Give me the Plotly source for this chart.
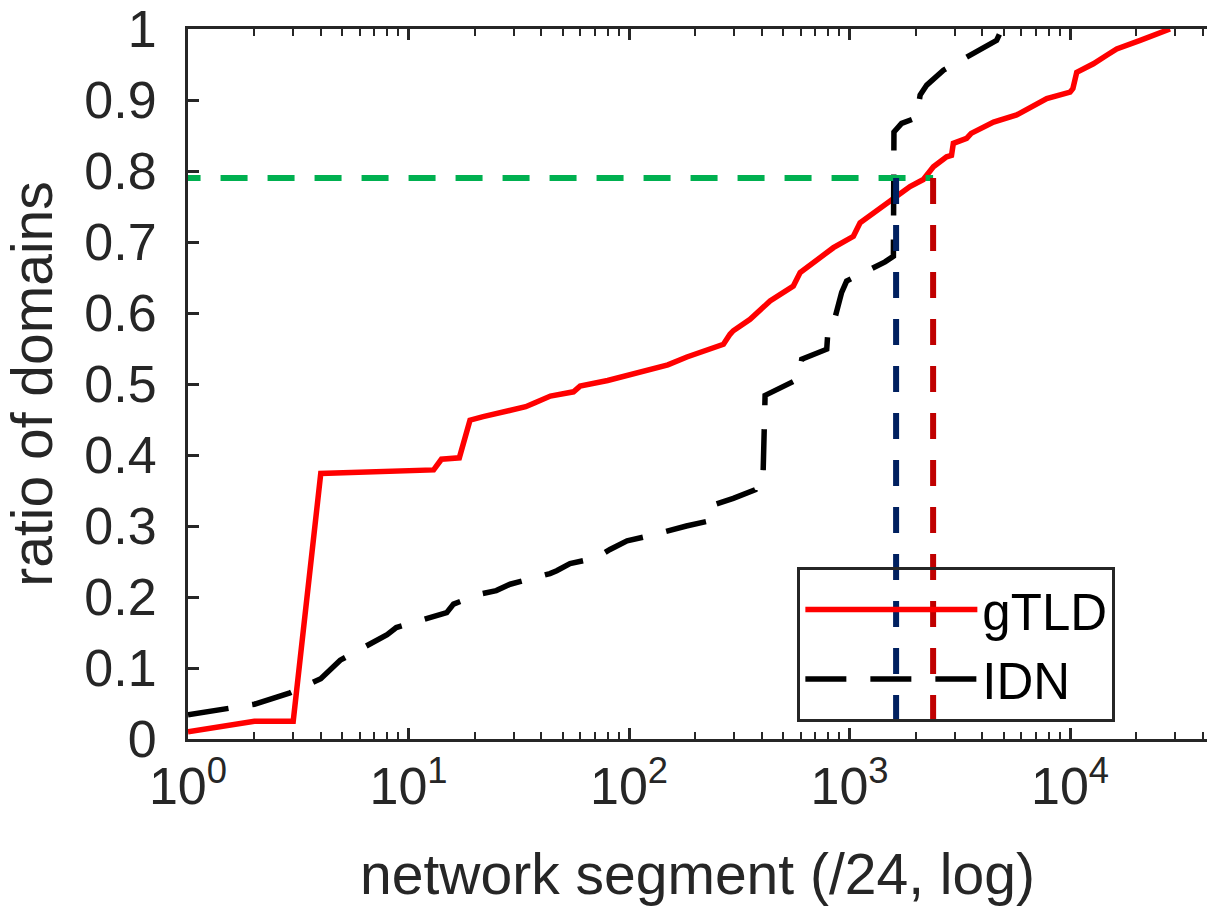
import plotly.graph_objects as go

# ---- data ----
gtld_x = [1, 2, 3, 4, 13, 14.1, 17, 19, 21.8, 26.9, 34, 37, 44, 56, 60, 80, 112, 150, 183, 220,
          259, 268, 287, 297, 354, 436, 556, 597, 845, 1041, 1116, 1475, 1581, 1880, 2161, 2400,
          2755, 2900, 2956, 3396, 3560, 4335, 4500, 5725, 6580, 7840, 10000, 10300, 10720, 12760,
          14660, 16280, 20800, 28400]
gtld_y = [0.010, 0.025, 0.025, 0.374, 0.379, 0.394, 0.396, 0.449, 0.454, 0.461, 0.468, 0.473,
          0.483, 0.489, 0.497, 0.505, 0.516, 0.527, 0.538, 0.546, 0.554, 0.556, 0.570, 0.575,
          0.591, 0.617, 0.638, 0.657, 0.692, 0.708, 0.727, 0.755, 0.762, 0.778, 0.788, 0.806,
          0.820, 0.822, 0.839, 0.846, 0.853, 0.865, 0.869, 0.879, 0.890, 0.902, 0.911, 0.916,
          0.939, 0.951, 0.963, 0.972, 0.984, 1.0]

idn_x = [1, 2, 2.9, 4, 4.9, 8, 8.8, 14.9, 16, 21, 25, 28.9, 43.8, 47, 54, 71, 82, 98, 127,
         159, 182, 230, 237, 297, 373, 378, 405, 414, 518, 586, 607, 788, 800, 860, 921, 970,
         1175, 1449, 1581, 1590, 1722, 2015, 2090, 2239, 2666, 3281, 4645, 4900]
idn_y = [0.034, 0.049, 0.065, 0.085, 0.111, 0.147, 0.157, 0.178, 0.190, 0.204, 0.209, 0.218,
         0.233, 0.237, 0.247, 0.255, 0.267, 0.279, 0.287, 0.296, 0.300, 0.307, 0.329, 0.339,
         0.351, 0.363, 0.367, 0.484, 0.499, 0.507, 0.535, 0.549, 0.580, 0.594, 0.629, 0.645,
         0.658, 0.672, 0.680, 0.855, 0.867, 0.875, 0.907, 0.921, 0.942, 0.958, 0.984, 1.0]

threshold = 0.79
idn_at_threshold = 1626
gtld_at_threshold = 2393
green_start = 0.86

x_tickvals = [1, 10, 100, 1000, 10000]
x_ticktext = ["10<sup>0</sup>", "10<sup>1</sup>", "10<sup>2</sup>", "10<sup>3</sup>", "10<sup>4</sup>"]
y_tickvals = [0, 0.1, 0.2, 0.3, 0.4, 0.5, 0.6, 0.7, 0.8, 0.9, 1.0]
y_ticktext = ["0", "0.1", "0.2", "0.3", "0.4", "0.5", "0.6", "0.7", "0.8", "0.9", "1"]

AX = "#262626"
FONT = "Liberation Sans, Arial, Helvetica, sans-serif"

fig = go.Figure()
fig.add_trace(go.Scatter(x=gtld_x, y=gtld_y, mode="lines", name="gTLD",
                         line=dict(color="#FF0000", width=5.5)))
fig.add_trace(go.Scatter(x=idn_x, y=idn_y, mode="lines", name="IDN",
                         line=dict(color="#000000", width=5.5, dash="41px,24px")))

# reference lines
fig.add_shape(type="line", xref="x", yref="y", x0=green_start, x1=gtld_at_threshold,
              y0=threshold, y1=threshold,
              line=dict(color="#00B050", width=6, dash="27px,20px"))
fig.add_shape(type="line", xref="x", yref="y", x0=idn_at_threshold, x1=idn_at_threshold,
              y0=threshold, y1=0,
              line=dict(color="#002060", width=6, dash="26px,21px"))
fig.add_shape(type="line", xref="x", yref="y", x0=gtld_at_threshold, x1=gtld_at_threshold,
              y0=threshold, y1=0,
              line=dict(color="#C00000", width=6, dash="26px,21px"))

fig.update_layout(
    width=1207, height=913,
    margin=dict(l=188, r=0, t=25, b=174),
    paper_bgcolor="white", plot_bgcolor="white",
    font=dict(family=FONT, color=AX),
    showlegend=True,
    legend=dict(x=0.598, y=0.024, xanchor="left", yanchor="bottom",
                bgcolor="rgba(0,0,0,0)", bordercolor=AX, borderwidth=3,
                font=dict(size=51, color="#000000", family=FONT),
                itemwidth=172),
    xaxis=dict(type="log", range=[0, 4.621],
               tickvals=x_tickvals, ticktext=x_ticktext,
               ticks="inside", ticklen=11, tickwidth=2.5, tickcolor=AX,
               showline=True, linewidth=3, linecolor=AX, mirror="ticks",
               showgrid=False, zeroline=False,
               tickfont=dict(size=52, color=AX),
               minor=dict(ticks="inside", ticklen=7, tickwidth=2, tickcolor=AX,
                          dtick="D1", showgrid=False),
               title=dict(text="network segment (/24, log)", font=dict(size=57, color=AX),
                          standoff=40)),
    yaxis=dict(range=[0, 1], tickvals=y_tickvals, ticktext=y_ticktext,
               ticks="inside", ticklen=11, tickwidth=2.5, tickcolor=AX,
               showline=True, linewidth=3, linecolor=AX,
               showgrid=False, zeroline=False, ticklabeloverflow="allow",
               tickfont=dict(size=52, color=AX), ticklabelstandoff=18,
               title=dict(text="ratio of domains", font=dict(size=57, color=AX),
                          standoff=15)),
)

fig.write_html("out.html")
